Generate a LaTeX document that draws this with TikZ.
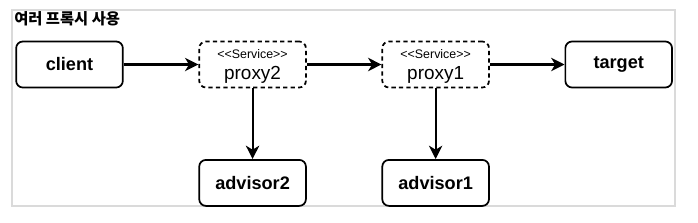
\documentclass[tikz,border=0pt]{standalone}
\usepackage{fontspec}
\usepackage{tikz}
\usetikzlibrary{arrows.meta, positioning}
\newfontfamily\helv{Liberation Sans}
\newfontfamily\kofont{Noto Sans CJK KR}
\definecolor{framegray}{RGB}{218,218,218}
\tikzset{
  box/.style={rectangle, rounded corners=5pt, draw=black, line width=1.3pt,
    minimum width=80pt, minimum height=34.5pt, inner sep=0pt, align=center,
    font=\helv\fontsize{13.6}{15}\selectfont\bfseries},
  proxybox/.style={box, dashed, dash pattern=on 3.2pt off 2.4pt, text depth=0pt,
    font=\helv\fontsize{14.2}{13}\selectfont},
  arrow/.style={-{Stealth[length=10pt, width=10pt, inset=3pt]},
    line width=1.6pt, color=black},
}

\begin{document}
\begin{tikzpicture}[x=0.75pt, y=-0.75pt]
  \useasboundingbox (0,0) rectangle (698,222);
  \draw[framegray, line width=0.9pt] (12,10) rectangle (675,206);
  \node[anchor=west, inner sep=0pt, font=\kofont\bfseries\fontsize{11.5}{12}\selectfont]
    (title) at (14,19) {여러 프록시 사용};

  \node[box] (client) at (69.5,64.5) {client};
  \node[proxybox, right=56pt of client] (proxy2)
    {{\fontsize{9.3}{10}\selectfont <<Service>>}\\[2.5pt]proxy2};
  \node[proxybox, right=56pt of proxy2] (proxy1)
    {{\fontsize{9.3}{10}\selectfont <<Service>>}\\[2.5pt]proxy1};
  \node[box, right=56pt of proxy1] (target) {target};
  \node[box, below=53pt of proxy2] (advisor2) {advisor2};
  \node[box, below=53pt of proxy1] (advisor1) {advisor1};

  \foreach \f/\t in {client/proxy2,proxy2/proxy1,proxy1/target,
                     proxy2/advisor2,proxy1/advisor1}
    \draw[arrow] (\f)--(\t);
\end{tikzpicture}
\end{document}
